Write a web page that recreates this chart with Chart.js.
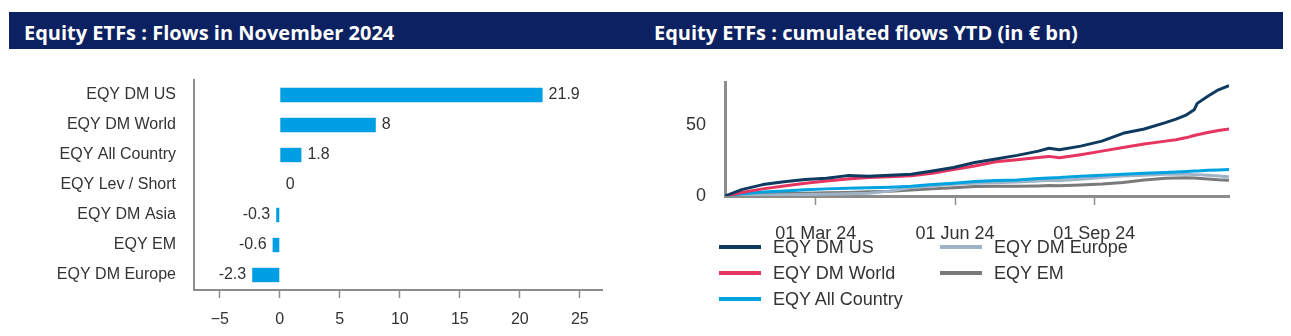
<!DOCTYPE html>
<html>
<head>
<meta charset="utf-8">
<script src="https://cdn.jsdelivr.net/npm/chart.js@4.4.1/dist/chart.umd.min.js"></script>
<style>
  body { margin: 0; background: #fff; }
  #page { position: relative; width: 1291px; height: 336px; overflow: hidden; font-family: "Liberation Sans", Arial, sans-serif; }
  .band { position: absolute; left: 9px; top: 12px; width: 1274px; height: 37px; background: #0b2161; }
  .title { position: absolute; top: 14px; height: 37px; line-height: 37px; color: #fff; font-family: "Open Sans", sans-serif; font-weight: 700; font-size: 20px; white-space: nowrap; }
  .legend-item { position: absolute; height: 20px; line-height: 20px; font-size: 18px; color: #333; white-space: nowrap; }
  .legend-item i { position: absolute; left: 0; top: 8px; width: 42px; height: 4px; }
  .legend-item span { position: absolute; left: 54px; top: 0; }
</style>
</head>
<body>
<div id="page">
  <div class="band"></div>
  <div class="title" style="left:24px">Equity ETFs : Flows in November 2024</div>
  <div class="title" style="left:654px">Equity ETFs : cumulated flows YTD (in € bn)</div>
  <canvas id="flows" width="640" height="276" style="position:absolute;left:0;top:60px"></canvas>
  <canvas id="ytd" width="651" height="190" style="position:absolute;left:640px;top:60px"></canvas>
  <div id="legend"></div>
</div>
<script>
// November flows (EUR bn)
const categories = ['EQY DM US', 'EQY DM World', 'EQY All Country', 'EQY Lev / Short', 'EQY DM Asia', 'EQY EM', 'EQY DM Europe'];
const novFlows = [21.9, 8, 1.8, 0, -0.3, -0.6, -2.3];
const flowTicks = [-5, 0, 5, 10, 15, 20, 25];

// cumulated flows YTD (EUR bn)
const dates = ['2024-01-01', '2024-01-12', '2024-01-26', '2024-02-09', '2024-02-23', '2024-03-08', '2024-03-22',
  '2024-04-05', '2024-04-19', '2024-05-03', '2024-05-17', '2024-05-31', '2024-06-14', '2024-06-28',
  '2024-07-12', '2024-07-26', '2024-08-02', '2024-08-09', '2024-08-23', '2024-09-06', '2024-09-20',
  '2024-10-04', '2024-10-18', '2024-10-25', '2024-11-01', '2024-11-06', '2024-11-08', '2024-11-15',
  '2024-11-22', '2024-11-29'];
const dmUS = [0, 4.5, 8, 10, 11.5, 12.5, 14.3, 13.8, 14.5, 15.2, 17.5, 20, 23.5, 26, 28.5, 31.5, 33.5, 32.5,
  35, 38.5, 44, 47, 51.5, 54, 57, 60.5, 65, 70, 74.5, 77.5];
const dmWorld = [0, 2.5, 5, 7, 9, 10.5, 12, 13, 13.5, 14.2, 16, 18.5, 21, 24, 25.5, 27, 27.8, 26.8, 29, 31.5,
  34, 36.5, 38.5, 39.5, 41, 42.5, 43, 44.5, 46, 47];
const allCountry = [0, 1.5, 2.8, 3.5, 4.3, 5, 5.5, 5.8, 6.2, 6.8, 8, 9, 10.2, 10.8, 11.3, 12.2, 12.7, 12.9,
  13.8, 14.6, 15.3, 15.9, 16.5, 16.9, 17.2, 17.5, 17.6, 18, 18.3, 18.6];
const dmEurope = [0, 0.3, 0.5, 0.8, 1, 1.3, 1.6, 2, 3.5, 6, 7, 8.3, 9, 9.3, 9.8, 10.6, 11, 10.8, 11.8, 12.9,
  14, 14.6, 15.2, 15.4, 15.3, 15, 15, 14.5, 14, 13.5];
const em = [0, 0.8, 1.5, 1.8, 2, 2.2, 2.5, 3, 3.4, 4.2, 5, 5.8, 6.7, 6.9, 6.9, 7.1, 7.3, 7.2, 7.8, 8.4, 9.5,
  11.2, 12.5, 12.7, 12.8, 12.6, 12.5, 12, 11.4, 11];
const ytdTickDates = ['2024-03-01', '2024-06-01', '2024-09-01'];
const ytdTicks = [0, 50];

const grey = '#8c8c8c';
const textCol = '#333';
const months = ['Jan', 'Feb', 'Mar', 'Apr', 'May', 'Jun', 'Jul', 'Aug', 'Sep', 'Oct', 'Nov', 'Dec'];
const start = Date.UTC(2024, 0, 1);
const dayOf = d => (Date.parse(d + 'T00:00:00Z') - start) / 86400000;
const fmtDay = n => {
  const d = new Date(start + n * 86400000);
  return String(d.getUTCDate()).padStart(2, '0') + ' ' + months[d.getUTCMonth()] + ' ' + String(d.getUTCFullYear()).slice(2);
};

Chart.defaults.font.family = '"Liberation Sans", Arial, sans-serif';
Chart.defaults.color = textCol;

const valueLabels = {
  id: 'valueLabels',
  afterDatasetsDraw(chart) {
    const ctx = chart.ctx;
    const meta = chart.getDatasetMeta(0);
    ctx.save();
    ctx.font = '16px "Liberation Sans", Arial, sans-serif';
    ctx.fillStyle = textCol;
    ctx.textBaseline = 'middle';
    meta.data.forEach((bar, i) => {
      const v = novFlows[i];
      ctx.textAlign = v < 0 ? 'right' : 'left';
      ctx.fillText(String(v), bar.x + (v < 0 ? -6 : 6), bar.y);
    });
    ctx.restore();
  }
};

// invisible tick marks keep the label gap without inflating the scale's top padding
const hiddenTicks = len => ({ drawOnChartArea: false, tickLength: len, tickColor: 'rgba(0,0,0,0)' });

new Chart(document.getElementById('flows'), {
  type: 'bar',
  data: {
    labels: categories,
    datasets: [{
      data: novFlows,
      backgroundColor: '#009fe3',
      categoryPercentage: 1,
      barPercentage: 0.48
    }]
  },
  options: {
    indexAxis: 'y',
    responsive: false,
    animation: false,
    devicePixelRatio: 1,
    layout: { padding: { top: 20, right: 38, left: 0, bottom: 0 } },
    plugins: { legend: { display: false }, tooltip: { enabled: false } },
    scales: {
      x: {
        type: 'linear',
        min: -7.15,
        max: 26.85,
        afterBuildTicks: s => { s.ticks = flowTicks.map(v => ({ value: v })); },
        afterFit: s => { s.height = 46; },
        grid: { drawOnChartArea: false, tickLength: 8, tickColor: grey, tickWidth: 1.5 },
        border: { color: grey, width: 2 },
        ticks: {
          padding: 12,
          font: { size: 16 },
          color: textCol,
          callback: v => (v < 0 ? '\u2212' + Math.abs(v) : String(v))
        }
      },
      y: {
        afterFit: s => { s.width = 194; },
        grid: hiddenTicks(16),
        border: { color: grey, width: 2 },
        ticks: { padding: 2, font: { size: 16 }, color: textCol }
      }
    }
  },
  plugins: [valueLabels]
});

const series = [
  { label: 'EQY DM US', values: dmUS, color: '#0e3a5f' },
  { label: 'EQY DM World', values: dmWorld, color: '#e63560' },
  { label: 'EQY All Country', values: allCountry, color: '#00a3e0' },
  { label: 'EQY DM Europe', values: dmEurope, color: '#9fb3c6' },
  { label: 'EQY EM', values: em, color: '#7a7a7a' }
];

new Chart(document.getElementById('ytd'), {
  type: 'line',
  data: {
    datasets: series.map(s => ({
      label: s.label,
      data: s.values.map((v, i) => ({ x: dayOf(dates[i]), y: v })),
      borderColor: s.color,
      backgroundColor: s.color,
      borderWidth: 3,
      pointRadius: 0,
      tension: 0,
      borderJoinStyle: 'round'
    }))
  },
  options: {
    responsive: false,
    animation: false,
    devicePixelRatio: 1,
    layout: { padding: { top: 22, right: 62, left: 0, bottom: 0 } },
    plugins: { legend: { display: false }, tooltip: { enabled: false } },
    scales: {
      x: {
        type: 'linear',
        min: dayOf(dates[0]),
        max: dayOf(dates[dates.length - 1]),
        afterBuildTicks: s => { s.ticks = ytdTickDates.map(d => ({ value: dayOf(d) })); },
        afterFit: s => { s.height = 54; },
        grid: { drawOnChartArea: false, tickLength: 9, tickColor: grey, tickWidth: 1.5 },
        border: { color: grey, width: 3 },
        ticks: { padding: 18, font: { size: 18 }, color: textCol, maxRotation: 0, callback: v => fmtDay(v) }
      },
      y: {
        min: 0,
        max: 80,
        afterBuildTicks: s => { s.ticks = ytdTicks.map(v => ({ value: v })); },
        afterFit: s => { s.width = 85; },
        grid: hiddenTicks(17),
        border: { color: grey, width: 3 },
        ticks: { padding: 2, font: { size: 18 }, color: textCol }
      }
    }
  }
});

// two-column legend, filled column by column
const legendCols = [719, 940];
const legendRows = [237, 263, 289];
const legend = document.getElementById('legend');
series.forEach((s, i) => {
  const item = document.createElement('div');
  item.className = 'legend-item';
  item.style.left = legendCols[Math.floor(i / 3)] + 'px';
  item.style.top = legendRows[i % 3] + 'px';
  item.innerHTML = '<i style="background:' + s.color + '"></i><span>' + s.label + '</span>';
  legend.appendChild(item);
});
</script>
</body>
</html>
